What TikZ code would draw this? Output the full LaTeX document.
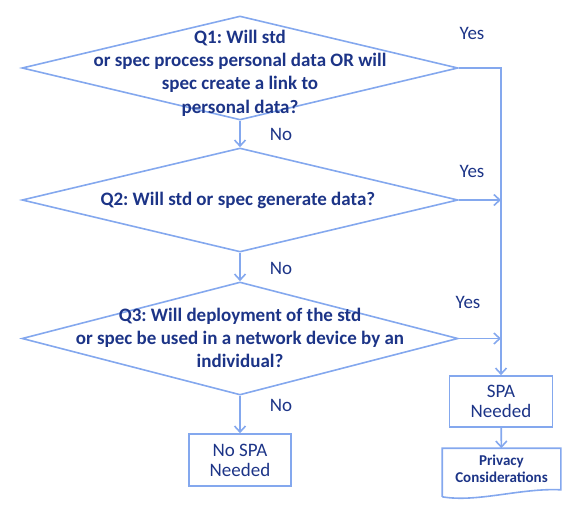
\documentclass[tikz,border=0pt]{standalone}
\usepackage{fontspec}
\setmainfont{Carlito}
\usepackage{xcolor}
\usetikzlibrary{positioning,shapes.geometric,arrows.meta}
\frenchspacing

\definecolor{flowline}{RGB}{132,168,238}
\definecolor{flowtext}{RGB}{28,52,135}

\begin{document}
\begin{tikzpicture}[x = 1pt, y = -1pt, line width = 1.6pt,
    >={Straight Barb[length = 6pt, width = 11pt]},
    decision/.style = {draw = flowline, diamond, inner sep = 0pt,
      minimum width = 436pt},
    question/.style = {text = flowtext, align = center,
      font = \fontsize{19}{23.3}\selectfont\bfseries},
    answer/.style = {text = flowtext, font = \fontsize{19}{20}\selectfont},
    outcome/.style = {draw = flowline, rectangle, text = flowtext, align = center,
      font = \fontsize{19}{20}\selectfont, minimum width = 103pt,
      minimum height = 51pt},
    flow/.style = {draw = flowline, ->}]

  \useasboundingbox (0, 0) rectangle (575, 525);

  % the three questions
  \node[decision, minimum height = 104pt] (q1) at (240, 68) {};
  \node[question] (q1text) at (240, 73) {
    Q1: Will std\\
    or spec process personal data OR will\\
    spec create a link to\\
    personal data?
  };

  \node[decision, minimum height = 104pt] (q2) at (240, 200) {};
  \node[question] (q2text) at (240, 200) {
    Q2: Will std or spec generate data?
  };

  \node[decision, minimum height = 113pt] (q3) at (240, 338.5) {};
  \node[question] (q3text) at (240, 338) {
    Q3: Will deployment of the std\\
    or spec be used in a network device by an\\
    individual?
  };

  % outcomes
  \node[outcome] (spa) at (501, 401.5) {
    SPA\\
    Needed
  };

  \node[outcome, minimum width = 102pt, minimum height = 52pt] (nospa) at (240, 460) {
    No SPA\\
    Needed
  };

  \node[text = flowtext, align = center, inner sep = 0pt,
    minimum width = 117pt, minimum height = 40pt,
    font = \fontsize{15}{17.5}\selectfont\bfseries] (privacy) at (501.5, 469) {
    Privacy\\
    Considerations
  };
  \draw[flowline] ([yshift = -7pt]privacy.south west) -- (privacy.north west)
    -- (privacy.north east) -- (privacy.south east)
    .. controls ([xshift = -40pt, yshift = 2pt]privacy.south east)
    and ([xshift = 35pt, yshift = -13pt]privacy.south west)
    .. ([yshift = -7pt]privacy.south west);

  % answers
  \node[answer] (yes1) at (472, 33) {Yes};
  \node[answer] (yes2) at (472, 171) {Yes};
  \node[answer] (yes3) at (468, 302) {Yes};
  \node[answer] (no1) at (281, 134) {No};
  \node[answer] (no2) at (281, 268) {No};
  \node[answer] (no3) at (281, 405) {No};

  % connectors
  \draw[flow] (q1) -- (q2);
  \draw[flow] (q2) -- (q3);
  \draw[flow] (q3) -- (nospa);
  \draw[flow] (q1.east) -| (spa.north);
  \draw[flow] (q2.east) -- (q2.east -| spa.north);
  \draw[flow] (q3.east) -- (q3.east -| spa.north);
  \draw[flow] (spa) -- (privacy);
\end{tikzpicture}
\end{document}
